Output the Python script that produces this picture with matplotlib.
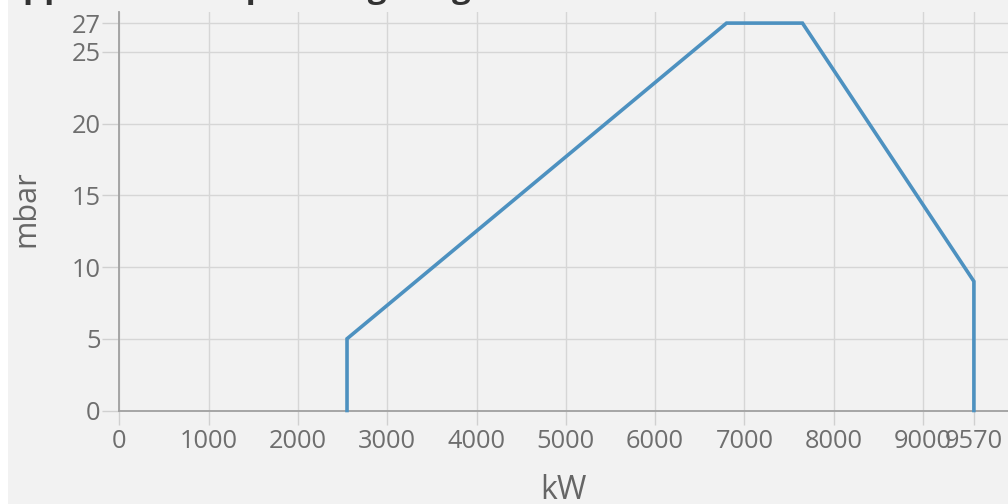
import matplotlib
matplotlib.use("Agg")
import matplotlib.pyplot as plt
from matplotlib.patches import Rectangle

# Data
power_kw = [2550, 2550, 6800, 7650, 9570, 9570]
pressure_mbar = [0, 5, 27, 27, 9, 0]
x_ticks = [0, 1000, 2000, 3000, 4000, 5000, 6000, 7000, 8000, 9000, 9570]
y_ticks = [0, 5, 10, 15, 20, 25, 27]
title = "Approximate operating range"
x_label = "kW"
y_label = "mbar"

plt.rcParams['font.family'] = ['Open Sans', 'DejaVu Sans']

W, H = 1008, 504
fig = plt.figure(figsize=(W / 100, H / 100), dpi=100, facecolor='#f2f2f2')
fig.patches.append(Rectangle((0, 0), 8 / W, 1, transform=fig.transFigure,
                             facecolor='white', edgecolor='none', zorder=-1))

left, right = 119.3, 1008
bottom, top = 410.5, 11.7
ax = fig.add_axes([left / W, 1 - bottom / H, (right - left) / W, (bottom - top) / H])
ax.set_facecolor('#f2f2f2')

px_per_1000 = 89.3
ax.set_xlim(0, (right - left) / px_per_1000 * 1000)
px_per_unit = (bottom - 23.1) / 27
ax.set_ylim(0, (bottom - top) / px_per_unit)

ax.plot(power_kw, pressure_mbar, color='#4d91c0', linewidth=2.6,
        solid_joinstyle='miter', zorder=3, clip_on=False)

ax.set_xticks(x_ticks)
ax.set_yticks(y_ticks)
ax.set_xticklabels([str(t) for t in x_ticks])
ax.set_yticklabels([str(t) for t in y_ticks])
ax.grid(True, color='#d6d6d6', linewidth=1.0)
ax.set_axisbelow(True)

for s in ['top', 'right']:
    ax.spines[s].set_visible(False)
for s in ['left', 'bottom']:
    ax.spines[s].set_color('#a0a0a0')
    ax.spines[s].set_linewidth(1.3)

ax.tick_params(axis='x', direction='out', length=10, width=1, color='#d0d0d0',
               labelsize=18.3, labelcolor='#6e6e6e', pad=3)
ax.tick_params(axis='y', direction='out', length=12, width=1, color='#d0d0d0',
               labelsize=18.3, labelcolor='#6e6e6e', pad=1.5)

ax.set_xlabel(x_label, fontsize=23, color='#666666')
ax.set_ylabel(y_label, fontsize=22, color='#666666')
ax.xaxis.set_label_coords(0.5, -0.16)
ax.yaxis.set_label_coords(-0.088, 0.505)

fig.text(0.0, 1.0 + 3 / H, title, fontsize=24, fontweight='bold', color='#333333',
         ha='left', va='baseline')

fig.savefig('out.png', dpi=100, facecolor=fig.get_facecolor())
